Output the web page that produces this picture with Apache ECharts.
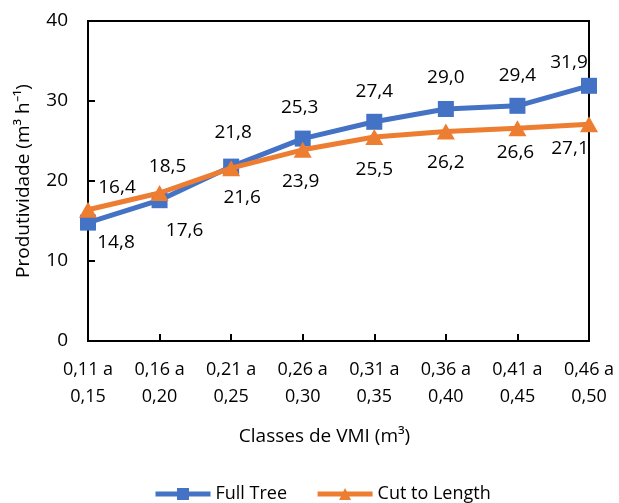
<!DOCTYPE html>
<html><head><meta charset="utf-8">
<script src="https://cdn.jsdelivr.net/npm/echarts@6/dist/echarts.min.js"></script>
<style>html,body{margin:0;padding:0;background:#fff}#c{width:619px;height:503px}</style>
</head><body><div id="c"></div>
<script>
const categories = ['0,11 a\n0,15','0,16 a\n0,20','0,21 a\n0,25','0,26 a\n0,30','0,31 a\n0,35','0,36 a\n0,40','0,41 a\n0,45','0,46 a\n0,50'];
const fullTree = [14.8, 17.6, 21.8, 25.3, 27.4, 29.0, 29.4, 31.9];
const cutToLength = [16.4, 18.5, 21.6, 23.9, 25.5, 26.2, 26.6, 27.1];
const yTicks = [0, 10, 20, 30, 40];

// label offsets (px, relative to the point) — styling only
const ftLabelOffsets = [[28,20],[25,30],[2,-34],[-3,-31],[0,-30],[0,-31],[0,-30],[-20,-23]];
const ctLabelOffsets = [[29,-22],[8,-26],[11,29],[-2,32],[0,33],[0,31],[-2,24],[-19,24]];

const FONT = 'Open Sans';
const FS = 19;
const fmt = v => v.toFixed(1).replace('.', ',');

function mkData(vals, offs) {
  return vals.map((v, i) => ({ value: v, label: { offset: offs[i] } }));
}

const chart = echarts.init(document.getElementById('c'));
chart.setOption({
  animation: false,
  textStyle: { fontFamily: FONT },
  grid: { left: 88, right: 30, top: 21, bottom: 162, show: true, borderColor: '#000', borderWidth: 2 },
  legend: {
    top: 480, left: 148, itemWidth: 55, itemHeight: 15, itemGap: 28,
    lineStyle: { width: 5 },
    textStyle: { fontFamily: FONT, fontSize: FS - 1, color: '#000' },
    data: ['Full Tree', 'Cut to Length']
  },
  xAxis: {
    type: 'category', data: categories, boundaryGap: false,
    name: 'Classes de VMI (m³)', nameLocation: 'middle', nameGap: 86,
    nameTextStyle: { fontFamily: FONT, fontSize: FS, color: '#000', padding: [0, 28, 0, 0] },
    axisLine: { lineStyle: { color: '#000', width: 2 } },
    axisTick: { inside: true, length: 7, lineStyle: { color: '#000', width: 2 } },
    axisLabel: { margin: 15, fontFamily: FONT, fontSize: FS - 1, color: '#000', lineHeight: 27 }
  },
  yAxis: {
    type: 'value', min: yTicks[0], max: yTicks[yTicks.length - 1], interval: 10,
    name: 'Produtividade (m³ h⁻¹)', nameLocation: 'middle', nameGap: 55,
    nameTextStyle: { fontFamily: FONT, fontSize: FS, color: '#000' },
    axisLine: { show: true, lineStyle: { color: '#000', width: 2 } },
    axisTick: { show: true, inside: true, length: 7, lineStyle: { color: '#000', width: 2 } },
    splitLine: { show: false },
    axisLabel: { margin: 20, fontFamily: FONT, fontSize: FS, color: '#000' }
  },
  series: [
    {
      name: 'Full Tree', type: 'line', data: mkData(fullTree, ftLabelOffsets),
      symbol: 'rect', symbolSize: 16,
      lineStyle: { color: '#4472C4', width: 5 }, itemStyle: { color: '#4472C4' },
      label: { show: true, position: 'inside', formatter: p => fmt(p.value), fontFamily: FONT, fontSize: FS, color: '#000' },
      z: 3
    },
    {
      name: 'Cut to Length', type: 'line', data: mkData(cutToLength, ctLabelOffsets),
      symbol: 'triangle', symbolSize: [18, 16],
      lineStyle: { color: '#ED7D31', width: 5 }, itemStyle: { color: '#ED7D31' },
      label: { show: true, position: 'inside', formatter: p => fmt(p.value), fontFamily: FONT, fontSize: FS, color: '#000' },
      z: 4
    }
  ]
});
</script></body></html>
